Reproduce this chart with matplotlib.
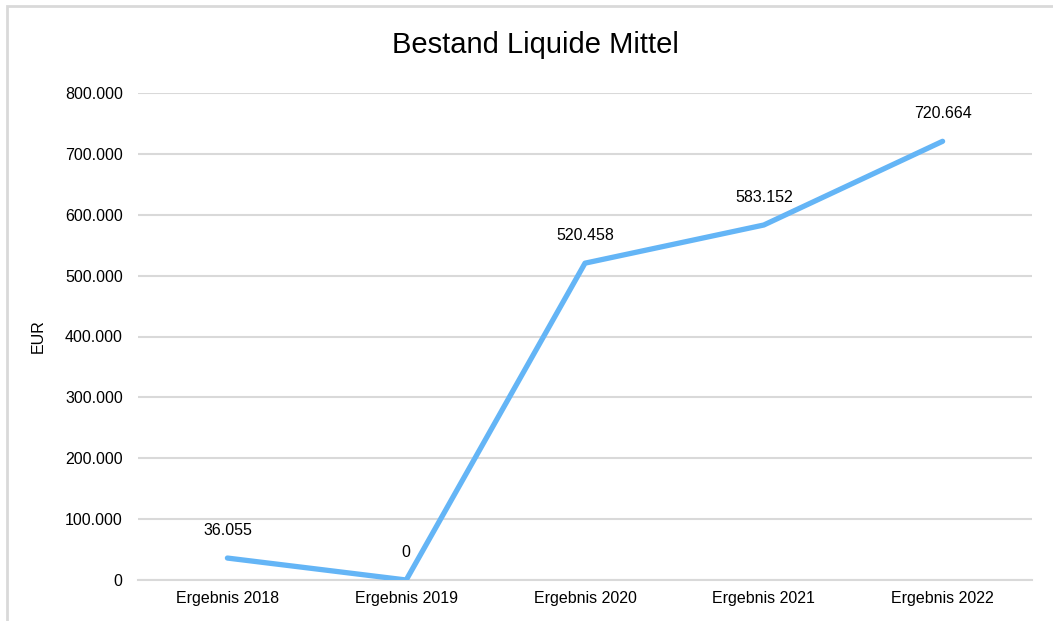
import matplotlib
matplotlib.use("Agg")
import matplotlib.pyplot as plt
from matplotlib.ticker import FuncFormatter, MultipleLocator
from matplotlib.patches import Rectangle

plt.rcParams["font.family"] = ["Liberation Sans", "DejaVu Sans"]

CATEGORIES = ["Ergebnis 2018", "Ergebnis 2019", "Ergebnis 2020", "Ergebnis 2021", "Ergebnis 2022"]
VALUES     = [36055, 0, 520458, 583152, 720664]
LINE_COLOR = "#64b5f6"
GRID_COLOR = "#d9d9d9"


def de_format(v, _pos=None):
    # Tausenderpunkt statt Komma
    return f"{v:,.0f}".replace(",", ".")


fig = plt.figure(figsize=(10.53, 6.21), dpi=100)
ax = fig.add_axes([138 / 1053, 1 - 580 / 621, 894 / 1053, 487 / 621])

xs = range(len(CATEGORIES))
ax.plot(xs, VALUES, color=LINE_COLOR, linewidth=3.8, solid_capstyle="round",
        solid_joinstyle="round", zorder=3)

for x, v in zip(xs, VALUES):
    ax.annotate(de_format(v), xy=(x, v), xytext=(0, 20), textcoords="offset points",
                ha="center", va="center", fontsize=11.5, color="#000000")

ax.set_xlim(-0.5, len(CATEGORIES) - 0.5)
ax.set_ylim(0, 800000)
ax.yaxis.set_major_locator(MultipleLocator(100000))
ax.yaxis.set_major_formatter(FuncFormatter(de_format))
ax.set_xticks(list(xs))
ax.set_xticklabels(CATEGORIES)

ax.grid(axis="y", color=GRID_COLOR, linewidth=1.5)
ax.set_axisbelow(True)
for s in ["top", "right", "left"]:
    ax.spines[s].set_visible(False)
ax.spines["bottom"].set_color(GRID_COLOR)
ax.spines["bottom"].set_linewidth(1.5)
ax.tick_params(axis="both", length=0, labelsize=11.5, colors="#000000")
ax.tick_params(axis="y", pad=11)
ax.tick_params(axis="x", pad=8)

ax.set_ylabel("EUR", fontsize=11.5, labelpad=14)
fig.text(535 / 1053, 1 - 45 / 621, "Bestand Liquide Mittel", ha="center", va="center",
         fontsize=21)

# Rahmen um das Diagramm
fig.patches.append(Rectangle((7 / 1053, -0.05), 1.1, 1 - 6 / 621 + 0.05,
                             transform=fig.transFigure, fill=False,
                             edgecolor=GRID_COLOR, linewidth=2))

fig.savefig("out.png", dpi=100)
